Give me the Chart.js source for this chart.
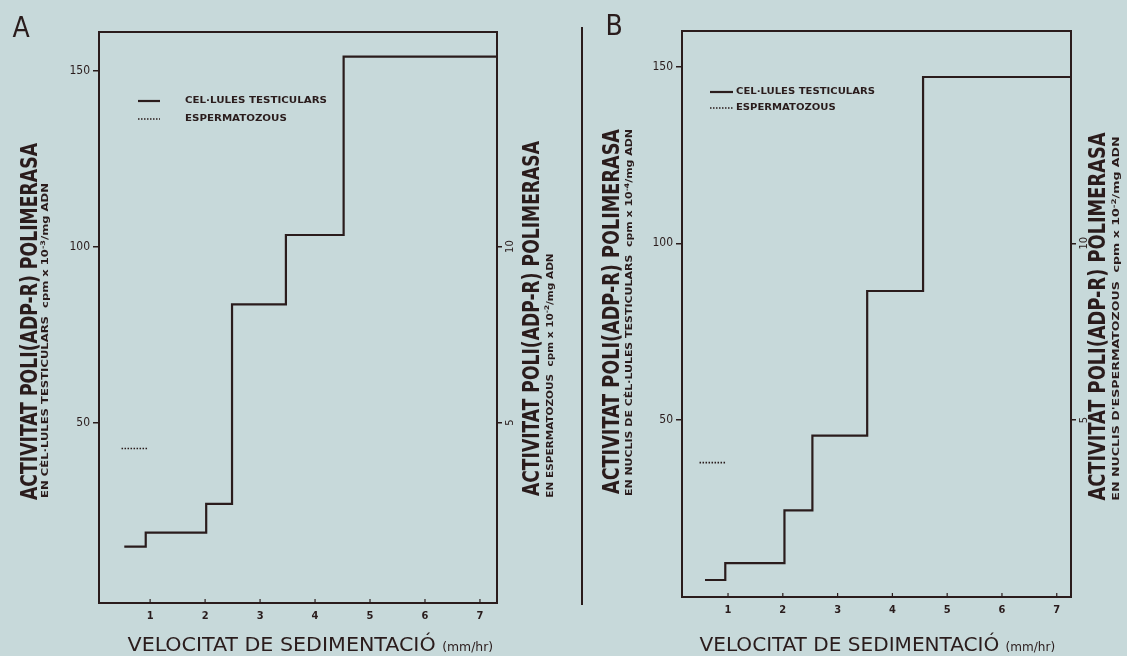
<!DOCTYPE html>
<html><head><meta charset="utf-8">
<script src="https://cdn.jsdelivr.net/npm/chart.js@4.4.1/dist/chart.umd.min.js"></script>
<style>
html,body{margin:0;padding:0;}
body{width:1127px;height:656px;background:#c7d9da;position:relative;overflow:hidden;font-family:"DejaVu Sans Condensed","DejaVu Sans",sans-serif;color:#2a1c1c;}
canvas{position:absolute;top:0;}
.lbl{position:absolute;white-space:nowrap;line-height:1;transform-origin:center center;}
.main{font-size:23px;font-weight:bold;}
.sub{font-size:9px;font-weight:bold;}
.xt{font-size:20px;}
.xt span{font-size:12px;}
.pan{font-size:28px;}
sup{font-size:0.7em;vertical-align:0.5em;line-height:0;}
#sep{position:absolute;left:581px;top:27px;width:2px;height:578px;background:#2a1c1c;}
</style></head><body>
<canvas id="cA" width="563" height="656" style="left:0"></canvas>
<canvas id="cB" width="564" height="656" style="left:563px"></canvas>
<div id="sep"></div>
<div class="lbl pan" id="pA">A</div>
<div class="lbl pan" id="pB">B</div>
<div class="lbl main" id="tAL">ACTIVITAT POLI(ADP-R) POLIMERASA</div>
<div class="lbl sub" id="sAL">EN CÈL·LULES TESTICULARS &nbsp;cpm x 10<sup>-3</sup>/mg ADN</div>
<div class="lbl main" id="tAR">ACTIVITAT POLI(ADP-R) POLIMERASA</div>
<div class="lbl sub" id="sAR">EN ESPERMATOZOUS &nbsp;cpm x 10<sup>-2</sup>/mg ADN</div>
<div class="lbl main" id="tBL">ACTIVITAT POLI(ADP-R) POLIMERASA</div>
<div class="lbl sub" id="sBL">EN NUCLIS DE CÈL·LULES TESTICULARS &nbsp;cpm x 10<sup>-4</sup>/mg ADN</div>
<div class="lbl main" id="tBR">ACTIVITAT POLI(ADP-R) POLIMERASA</div>
<div class="lbl sub" id="sBR">EN NUCLIS D'ESPERMATOZOUS &nbsp;cpm x 10<sup>-2</sup>/mg ADN</div>
<div class="lbl xt" id="xA">VELOCITAT DE SEDIMENTACIÓ <span>(mm/hr)</span></div>
<div class="lbl xt" id="xB">VELOCITAT DE SEDIMENTACIÓ <span>(mm/hr)</span></div>
<script>
// ---- data ----
const seriesNames = ['CEL·LULES TESTICULARS', 'ESPERMATOZOUS'];
const xTickValues = [1, 2, 3, 4, 5, 6, 7];
const leftTickValues = [50, 100, 150];
const rightTickValues = [5, 10];
// Panel A
const edgesA = [0.53, 0.92, 2.02, 2.49, 3.47, 4.52, 7.31];
const testicularA = [14.7, 18.7, 26.9, 83.6, 103.3, 154, 154];
const spermEdgesA = [0.48, 0.95];
const spermA = [4.26, 4.26];
// Panel B
const edgesB = [0.58, 0.95, 2.03, 2.54, 3.54, 4.56, 7.26];
const testicularB = [4.8, 9.6, 24.5, 45.6, 86.5, 147.0, 147.0];
const spermEdgesB = [0.48, 0.97];
const spermB = [3.8, 3.8];

const INK = '#2a1c1c';
const FONT = '"DejaVu Sans Condensed","DejaVu Sans",sans-serif';

const framePlugin = {
  id: 'frame',
  afterDatasetsDraw(chart, args, o) {
    const ctx = chart.ctx, a = chart.chartArea;
    ctx.save();
    ctx.strokeStyle = INK; ctx.lineWidth = 2;
    ctx.strokeRect(a.left, a.top, a.right - a.left, a.bottom - a.top);
    const xs = chart.scales.x;
    ctx.lineWidth = 1.2;
    xs.ticks.forEach(t => {
      const px = xs.getPixelForValue(t.value);
      ctx.beginPath(); ctx.moveTo(px, a.bottom); ctx.lineTo(px, a.bottom - 4); ctx.stroke();
    });
    // rotated right-axis tick labels, positioned by the y2 scale
    const ys = chart.scales.y2;
    ctx.fillStyle = INK;
    ctx.font = '11px ' + FONT;
    ctx.textAlign = 'center'; ctx.textBaseline = 'middle';
    ys.ticks.forEach(t => {
      const py = ys.getPixelForValue(t.value);
      ctx.save();
      ctx.translate(a.right + o.rightLabelOffset, py);
      ctx.rotate(-Math.PI / 2);
      ctx.fillText(String(t.value), 0, 0);
      ctx.restore();
    });
    ctx.restore();
  }
};
const legendPlugin = {
  id: 'inLegend',
  afterDatasetsDraw(chart, args, o) {
    const ctx = chart.ctx, a = chart.chartArea;
    ctx.save();
    ctx.font = o.font;
    const s = o.textWidth / ctx.measureText(chart.data.datasets[0].label).width;
    chart.data.datasets.forEach((ds, i) => {
      const y = a.top + o.y + i * o.gap;
      const x = a.left + o.x;
      ctx.strokeStyle = ds.borderColor; ctx.lineWidth = ds.borderWidth;
      ctx.setLineDash(ds.borderDash || []);
      ctx.beginPath(); ctx.moveTo(x, y); ctx.lineTo(x + o.len, y); ctx.stroke();
      ctx.setLineDash([]);
      ctx.fillStyle = INK; ctx.textBaseline = 'middle';
      ctx.save();
      ctx.translate(x + o.len + o.textGap, y);
      ctx.scale(s, 1);
      ctx.fillText(ds.label, 0, 0);
      ctx.restore();
    });
    ctx.restore();
  }
};

function pts(xs, ys) { return xs.map((x, i) => ({x: x, y: ys[i]})); }

function makeChart(id, p) {
  return new Chart(document.getElementById(id), {
    type: 'line',
    data: {
      datasets: [
        {label: seriesNames[0], data: pts(p.edges, p.test), yAxisID: 'y', stepped: true,
         borderColor: INK, borderWidth: 2.2, pointRadius: 0, fill: false},
        {label: seriesNames[1], data: pts(p.sEdges, p.sperm), yAxisID: 'y2',
         borderColor: INK, borderWidth: 1.6, borderDash: [1.5, 1.5], pointRadius: 0, fill: false}
      ]
    },
    options: {
      responsive: false, animation: false, devicePixelRatio: 1,
      layout: {padding: {top: p.top, left: 0, right: 0, bottom: 0}},
      plugins: {legend: {display: false}, tooltip: {enabled: false},
        inLegend: p.legend, frame: {rightLabelOffset: p.rightLabelOffset}},
      scales: {
        x: {type: 'linear', min: p.xmin, max: p.xmax,
          afterBuildTicks: s => { s.ticks = xTickValues.map(v => ({value: v})); },
          afterFit: s => { s.height = p.bottomH; },
          grid: {display: false, drawTicks: false}, border: {display: false},
          ticks: {color: INK, padding: 7, font: {family: FONT, size: 11, weight: 'bold'}}},
        y: {type: 'linear', position: 'left', min: p.ymin, max: p.ymax,
          afterBuildTicks: s => { s.ticks = leftTickValues.map(v => ({value: v})); },
          afterFit: s => { s.width = p.leftW; },
          grid: {display: true, drawOnChartArea: false, drawTicks: true, tickLength: 6, color: INK, lineWidth: 1.5},
          border: {display: false},
          ticks: {color: INK, padding: 3, font: {family: FONT, size: 12}}},
        y2: {type: 'linear', position: 'right', min: p.ymin / 10, max: p.ymax / 10,
          afterBuildTicks: s => { s.ticks = rightTickValues.map(v => ({value: v})); },
          afterFit: s => { s.width = p.rightW; },
          grid: {display: true, drawOnChartArea: false, drawTicks: true, tickLength: 5, color: INK, lineWidth: 1.5},
          border: {display: false},
          ticks: {display: false}}
      }
    },
    plugins: [framePlugin, legendPlugin]
  });
}

makeChart('cA', {edges: edgesA, test: testicularA, sEdges: spermEdgesA, sperm: spermA,
  xmin: 0.07, xmax: 7.31, ymin: -1.3, ymax: 161, top: 32, leftW: 99, rightW: 66, bottomH: 53,
  rightLabelOffset: 13,
  legend: {x: 39, y: 69, gap: 18, len: 22, textGap: 25, textWidth: 142, font: 'bold 9px ' + FONT}});
makeChart('cB', {edges: edgesB, test: testicularB, sEdges: spermEdgesB, sperm: spermB,
  xmin: 0.16, xmax: 7.26, ymin: 0, ymax: 160, top: 31, leftW: 119, rightW: 56, bottomH: 59,
  rightLabelOffset: 13,
  legend: {x: 28, y: 61, gap: 16, len: 23, textGap: 3, textWidth: 139, font: 'bold 9px ' + FONT}});

function place(id, cx, cy, len, rot) {
  const el = document.getElementById(id);
  const w = el.offsetWidth, h = el.offsetHeight;
  const s = len ? len / w : 1;
  el.style.left = (cx - w / 2) + 'px';
  el.style.top = (cy - h / 2) + 'px';
  el.style.transform = (rot ? 'rotate(-90deg) ' : '') + 'scaleX(' + s + ')';
}
place('pA', 21, 28, 0, false);
place('pB', 614, 26, 0, false);
place('tAL', 29, 321, 357, true);
place('sAL', 46, 340, 315, true);
place('tAR', 531, 318, 355, true);
place('sAR', 550, 375, 244, true);
place('tBL', 611, 311, 365, true);
place('sBL', 629, 312, 367, true);
place('tBR', 1097, 316, 368, true);
place('sBR', 1117, 318, 365, true);
place('xA', 310, 644, 366, false);
place('xB', 877, 644, 356, false);
</script>
</body></html>
